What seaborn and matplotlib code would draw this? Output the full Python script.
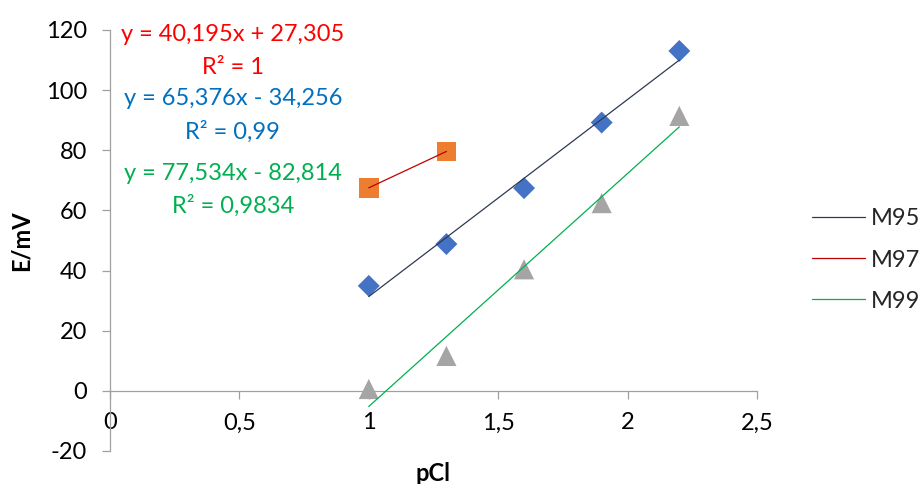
import matplotlib
matplotlib.use("Agg")
import matplotlib.pyplot as plt
import seaborn as sns

# measured points (pCl vs E/mV)
pcl_m95 = [1.0, 1.3, 1.6, 1.9, 2.2]
e_m95 = [34.9, 48.8, 67.4, 89.2, 113.0]

pcl_m97 = [1.0, 1.3]
e_m97 = [67.5, 79.6]

pcl_m99 = [1.0, 1.3, 1.6, 1.9, 2.2]
e_m99 = [0.6, 11.6, 40.4, 62.4, 91.4]

series_names = ["M95", "M97", "M99"]
equations = ["y = 40,195x + 27,305", "y = 65,376x - 34,256", "y = 77,534x - 82,814"]
r2_labels = ["R² = 1", "R² = 0,99", "R² = 0,9834"]

x_ticks = [0, 0.5, 1, 1.5, 2, 2.5]
x_tick_labels = ["0", "0,5", "1", "1,5", "2", "2,5"]
y_ticks = [-20, 0, 20, 40, 60, 80, 100, 120]

sns.set_theme(style="white")
plt.rcParams['font.family'] = ['Lato', 'DejaVu Sans']
plt.rcParams['axes.unicode_minus'] = False

fig = plt.figure(figsize=(9.21, 4.84), dpi=100)
ax = fig.add_axes([0.1194, 0.0682, 0.7025, 0.870])

# markers
sns.scatterplot(x=pcl_m95, y=e_m95, marker="D", s=125, color="#4472C4",
                edgecolor="none", zorder=3, ax=ax)
sns.scatterplot(x=pcl_m97, y=e_m97, marker="s", s=200, color="#ED7D31",
                edgecolor="none", zorder=3, ax=ax)
sns.scatterplot(x=pcl_m99, y=e_m99, marker="^", s=210, color="#A5A5A5",
                edgecolor="none", zorder=3, ax=ax)

# linear trendlines
sns.regplot(x=pcl_m95, y=e_m95, scatter=False, ci=None, truncate=True,
            line_kws=dict(color="#2E3A52", lw=0.9, zorder=4), label="M95", ax=ax)
sns.regplot(x=pcl_m97, y=e_m97, scatter=False, ci=None, truncate=True,
            line_kws=dict(color="#C00000", lw=0.9, zorder=4), label="M97", ax=ax)
sns.regplot(x=pcl_m99, y=e_m99, scatter=False, ci=None, truncate=True,
            line_kws=dict(color="#00B050", lw=0.9, zorder=4), label="M99", ax=ax)

ax.set_xlim(0, 2.5)
ax.set_ylim(-20, 120)
ax.set_xticks(x_ticks)
ax.set_xticklabels(x_tick_labels)
ax.set_yticks(y_ticks)

gray = "#A0A0A0"
for s in ["top", "right"]:
    ax.spines[s].set_visible(False)
ax.spines["bottom"].set_position(("data", 0))
for s in ["left", "bottom"]:
    ax.spines[s].set_color(gray)
    ax.spines[s].set_linewidth(0.9)

ax.tick_params(axis="x", direction="out", length=5.5, width=0.9, color=gray,
               labelsize=17, pad=10, labelcolor="black", bottom=True)
ax.tick_params(axis="y", direction="out", length=5.5, width=0.9, color=gray,
               labelsize=17, pad=11, labelcolor="black", left=True)

ax.set_xlabel("pCl", fontsize=17, fontweight="bold", color="black")
ax.set_ylabel("E/mV", fontsize=17, fontweight="bold", color="black")
ax.xaxis.set_label_coords(0.5, -0.025)
ax.yaxis.set_label_coords(-0.119, 0.5)

# trendline equation labels
eq_colors = ["#FF0000", "#0070C0", "#00B050"]
eq_y = [118.4, 97.1, 72.1]
r2_y = [107.4, 86.1, 61.5]
for eq, r2, c, ye, yr in zip(equations, r2_labels, eq_colors, eq_y, r2_y):
    ax.text(0.475, ye, eq, color=c, fontsize=17, ha="center", va="center")
    ax.text(0.475, yr, r2, color=c, fontsize=17, ha="center", va="center")

handles, labels = ax.get_legend_handles_labels()
keep = [(h, l) for h, l in zip(handles, labels) if l in series_names]
fig.legend([h for h, _ in keep], [l for _, l in keep], loc="center left",
           bbox_to_anchor=(0.8817, 0.4628), frameon=False, fontsize=17,
           handlelength=2.25, handletextpad=0.25, labelspacing=0.85,
           borderpad=0, borderaxespad=0)

fig.savefig("out.png", dpi=100)
